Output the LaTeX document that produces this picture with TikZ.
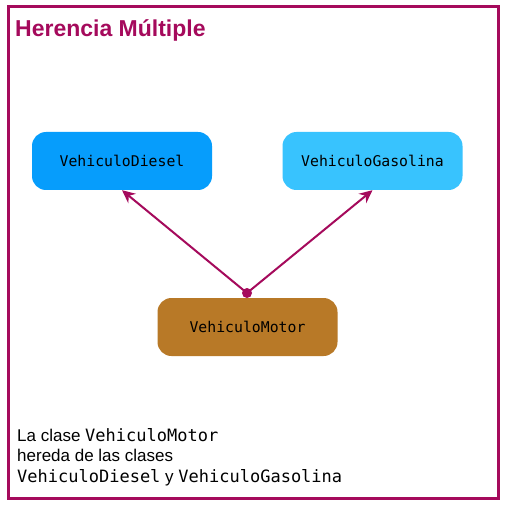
\documentclass[tikz,border=0pt]{standalone}
\usepackage{fontspec}
\setmainfont{Liberation Sans}
\newfontfamily\monobox{DejaVu Sans Mono}
\usetikzlibrary{arrows.meta}
\definecolor{frame}{HTML}{A50A5C}
\definecolor{diesel}{HTML}{069DFC}
\definecolor{gas}{HTML}{38C3FE}
\definecolor{motor}{HTML}{B87927}
\tikzset{
  classbox/.style={rounded corners=14pt, minimum width=180pt, minimum height=58pt, inner sep=0pt,
    font=\monobox\fontsize{14.8}{17}\selectfont},
  inherit/.style={draw=frame, line width=2pt, -{Stealth[length=13pt,width=12pt]}},
  captext/.style={anchor=base west, inner sep=0pt, font=\fontsize{17}{20}\selectfont},
}
\begin{document}
\begin{tikzpicture}[x=1pt,y=-1pt]
\useasboundingbox (0,0) rectangle (507,510);
\fill[white] (0,0) rectangle (507,510);
\draw[frame, line width=3pt] (8,7) rectangle (498,498);
\node[anchor=base west, inner sep=0pt, text=frame, font=\bfseries\fontsize{23}{27}\selectfont] (title) at (15,37) {Herencia Múltiple};
\node[classbox, fill=diesel] (diesel) at (122,161) {VehiculoDiesel};
\node[classbox, fill=gas] (gas) at (372.5,161) {VehiculoGasolina};
\node[classbox, fill=motor] (motor) at (247.5,327) {VehiculoMotor};
\node[circle, fill=frame, minimum size=10pt, inner sep=0pt] (dot) at (247,293) {};
\draw[inherit] (dot.center) -- (diesel.south);
\draw[inherit] (dot.center) -- (gas.south);
\node[captext] (cap1) at (17,441) {La clase {\monobox VehiculoMotor}};
\node[captext] (cap2) at (17,461.5) {hereda de las clases};
\node[captext] (cap3) at (17,482) {{\monobox VehiculoDiesel} y {\monobox VehiculoGasolina}};
\end{tikzpicture}
\end{document}
